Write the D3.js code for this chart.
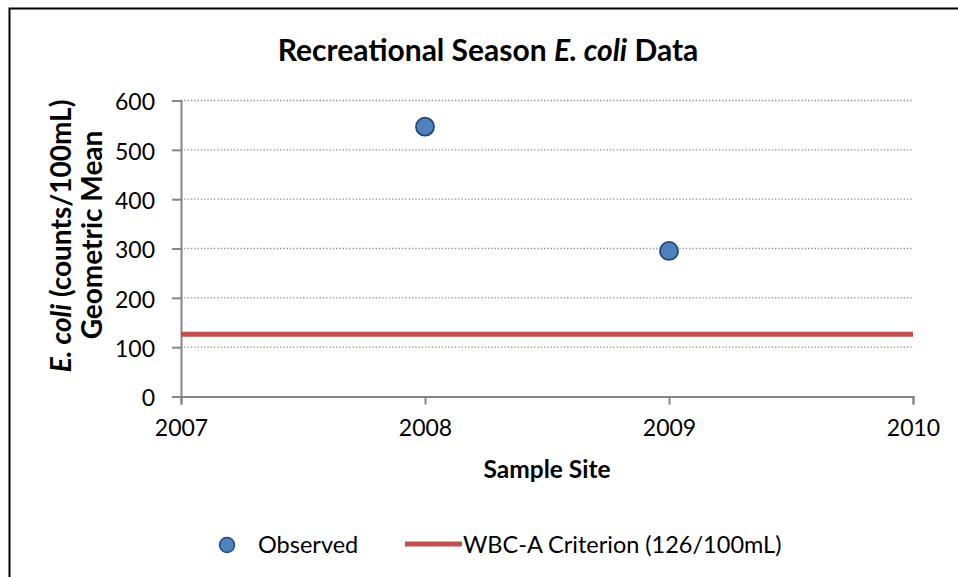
<!DOCTYPE html>
<html><head><meta charset="utf-8">
<script src="https://cdn.jsdelivr.net/npm/d3@7"></script>
<style>body{margin:0;background:#fff}svg{display:block}text{font-family:Lato,"Open Sans",sans-serif}</style>
</head><body><svg id="c" width="958" height="577"></svg>
<script>
const years = [2008, 2009];
const observed = [547, 295];
const criterion = 126;
const xTicks = [2007, 2008, 2009, 2010];
const yTicks = [0, 100, 200, 300, 400, 500, 600];

const svg = d3.select("#c");
svg.append("rect").attr("x", 9.5).attr("y", 8.5).attr("width", 960).attr("height", 600)
  .attr("fill", "#fff").attr("stroke", "#000").attr("stroke-width", 2);

const x = d3.scaleLinear().domain([2007, 2010]).range([181, 913]);
const y = d3.scaleLinear().domain([0, 600]).range([396.5, 100.5]);

// gridlines
svg.append("g").selectAll("line").data(yTicks.filter(d => d > 0)).join("line")
  .attr("x1", 181).attr("x2", 913).attr("y1", d => y(d)).attr("y2", d => y(d))
  .attr("stroke", "#8c8c8c").attr("stroke-width", 1.3).attr("stroke-dasharray", "1.3,2");

// y axis
const ya = svg.append("g").attr("transform", "translate(181,0)")
  .call(d3.axisLeft(y).tickValues(yTicks).tickSize(9).tickPadding(17));
ya.attr("font-family", null).attr("font-size", null);
ya.select(".domain").attr("stroke", "#868686").attr("stroke-width", 2);
ya.selectAll(".tick line").attr("stroke", "#868686").attr("stroke-width", 2);
ya.selectAll("text").attr("font-size", 23).attr("fill", "#000").attr("dy", "0.4em");

// x axis
const xa = svg.append("g").attr("transform", "translate(0,396.5)")
  .call(d3.axisBottom(x).tickValues(xTicks).tickFormat(d3.format("d")).tickSize(8).tickPadding(15));
xa.attr("font-family", null).attr("font-size", null);
xa.select(".domain").attr("stroke", "#868686").attr("stroke-width", 2);
xa.selectAll(".tick line").attr("stroke", "#868686").attr("stroke-width", 2);
xa.selectAll("text").attr("font-size", 23).attr("fill", "#000");

// criterion line
svg.append("line").attr("x1", x(2007)).attr("x2", x(2010))
  .attr("y1", y(criterion)).attr("y2", y(criterion))
  .attr("stroke", "#C0504D").attr("stroke-width", 5);

// observed points
svg.append("g").selectAll("circle").data(years.map((yr, i) => [yr, observed[i]])).join("circle")
  .attr("cx", d => x(d[0])).attr("cy", d => y(d[1])).attr("r", 9)
  .attr("fill", "#4F81BD").attr("stroke", "#1F497D").attr("stroke-width", 1.8);

// title
const t = svg.append("text").attr("x", 488).attr("y", 61).attr("text-anchor", "middle")
  .attr("font-size", 30).attr("font-weight", "bold");
t.append("tspan").text("Recreational Season ");
t.append("tspan").attr("font-style", "italic").text("E. coli");
t.append("tspan").text(" Data");

// x title
svg.append("text").attr("x", 547).attr("y", 478).attr("text-anchor", "middle")
  .attr("font-size", 24.5).attr("font-weight", "bold").text("Sample Site");

// y title
const yt = svg.append("text").attr("transform", "translate(71,236) rotate(-90)")
  .attr("text-anchor", "middle").attr("font-size", 28).attr("font-weight", "bold");
yt.append("tspan").attr("font-style", "italic").text("E. coli");
yt.append("tspan").text(" (counts/100mL)");
svg.append("text").attr("transform", "translate(102,235) rotate(-90)")
  .attr("text-anchor", "middle").attr("font-size", 28).attr("font-weight", "bold").text("Geometric Mean");

// legend
svg.append("circle").attr("cx", 227).attr("cy", 545).attr("r", 7.5)
  .attr("fill", "#4F81BD").attr("stroke", "#1F497D").attr("stroke-width", 1.5);
svg.append("text").attr("x", 258).attr("y", 553).attr("font-size", 23.5).text("Observed");
svg.append("line").attr("x1", 405).attr("x2", 462).attr("y1", 544).attr("y2", 544)
  .attr("stroke", "#C0504D").attr("stroke-width", 5);
svg.append("text").attr("x", 463).attr("y", 553).attr("font-size", 23.5).text("WBC-A Criterion (126/100mL)");
</script></body></html>
